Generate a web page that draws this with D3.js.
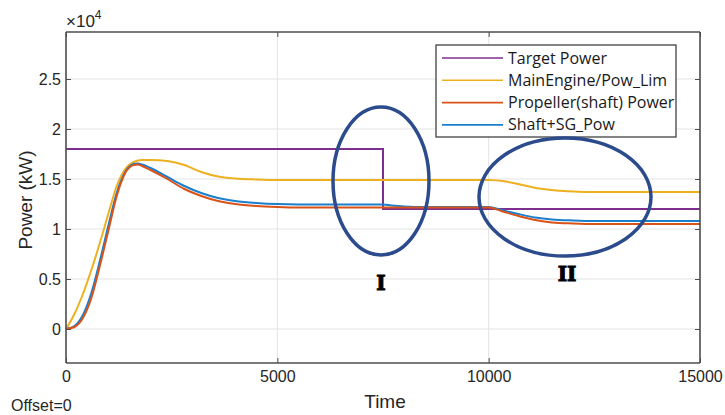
<!DOCTYPE html>
<html>
<head>
<meta charset="utf-8">
<script src="https://cdn.jsdelivr.net/npm/d3@7"></script>
<style>
  body { margin: 0; background: #fff; }
  svg { font-family: "Liberation Sans", Arial, sans-serif; }
</style>
</head>
<body>
<div id="chart"></div>
<script>
// Data (time, power in kW)
const timeTarget = [0, 7500, 7500, 15000];
const powTarget = [18000, 18000, 12000, 12000];

const timeEngine = [0, 200, 400, 600, 800, 1000, 1200, 1400, 1600, 1800, 2000, 2400, 2800, 3200, 3600, 4000, 4500, 5000, 10000, 10400, 10800, 11200, 11600, 12000, 12500, 15000];
const powEngine = [0, 1500, 3500, 5900, 8600, 11500, 14300, 16000, 16700, 16900, 16900, 16800, 16400, 15700, 15250, 15050, 14950, 14900, 14900, 14750, 14400, 14050, 13850, 13750, 13700, 13700];

const timeProp = [0, 200, 400, 600, 800, 1000, 1200, 1400, 1600, 1700, 1800, 2000, 2400, 2800, 3200, 3600, 4000, 4500, 5000, 5500, 10000, 10300, 10700, 11100, 11500, 12000, 12500, 15000];
const powProp = [0, 200, 1100, 3100, 6300, 9800, 13300, 15600, 16400, 16450, 16300, 15900, 15000, 14000, 13300, 12800, 12500, 12300, 12200, 12150, 12150, 11800, 11300, 10900, 10650, 10550, 10500, 10500];

const timeShaft = [0, 200, 400, 600, 800, 1000, 1200, 1400, 1600, 1700, 1800, 2000, 2400, 2800, 3200, 3600, 4000, 4500, 5000, 6000, 7500, 7700, 8000, 8500, 10000, 10300, 10700, 11100, 11500, 12000, 12500, 15000];
const powShaft = [0, 300, 1400, 3600, 6800, 10300, 13600, 15700, 16500, 16550, 16450, 16100, 15200, 14300, 13600, 13100, 12800, 12600, 12500, 12450, 12450, 12350, 12250, 12200, 12200, 11900, 11500, 11150, 10950, 10850, 10800, 10800];

const xTicks = [0, 5000, 10000, 15000];
const yTicks = [0, 5000, 10000, 15000, 20000, 25000];
const seriesNames = ['Target Power', 'MainEngine/Pow_Lim', 'Propeller(shaft) Power', 'Shaft+SG_Pow'];
const seriesColors = ['#7e2f8e', '#edb120', '#d95319', '#1b7fcc'];

const W = 725, H = 415;
const margin = { top: 32, right: 25, bottom: 52, left: 66 };
const width = W - margin.left - margin.right;
const height = H - margin.top - margin.bottom;

const svg = d3.select('#chart').append('svg')
  .attr('width', W).attr('height', H);
const g = svg.append('g')
  .attr('transform', `translate(${margin.left},${margin.top})`);

const x = d3.scaleLinear().domain([0, 15000]).range([0, width]);
const y = d3.scaleLinear().domain([-3400, 29700]).range([height, 0]);

// Grid
g.append('g').selectAll('line').data(xTicks.slice(1, -1)).enter().append('line')
  .attr('x1', d => x(d)).attr('x2', d => x(d))
  .attr('y1', 0).attr('y2', height)
  .attr('stroke', '#e3e3e3').attr('stroke-width', 1);
g.append('g').selectAll('line').data(yTicks).enter().append('line')
  .attr('x1', 0).attr('x2', width)
  .attr('y1', d => y(d)).attr('y2', d => y(d))
  .attr('stroke', '#e3e3e3').attr('stroke-width', 1);

// Series (propeller drawn last so it sits on top where it meets the shaft curve)
const line = d3.line().curve(d3.curveMonotoneX);
const series = [
  [timeTarget, powTarget, 0],
  [timeEngine, powEngine, 1],
  [timeShaft, powShaft, 3],
  [timeProp, powProp, 2]
];
series.forEach(s => {
  const pts = s[0].map((t, k) => [x(t), y(s[1][k])]);
  g.append('path')
    .attr('d', s[2] === 0 ? d3.line()(pts) : line(pts))
    .attr('fill', 'none')
    .attr('stroke', seriesColors[s[2]])
    .attr('stroke-width', 2);
});

// Axes (MATLAB style box, ticks inside on all sides)
const axisColor = '#4d4d4d';
const fmtY = d => d === 0 ? '0' : String(d / 10000);
const xAxis = g.append('g').attr('transform', `translate(0,${height})`)
  .call(d3.axisBottom(x).tickValues(xTicks).tickSize(-5).tickPadding(8).tickFormat(d3.format('d')));
const xAxisTop = g.append('g')
  .call(d3.axisTop(x).tickValues(xTicks).tickSize(-5).tickFormat(''));
const yAxis = g.append('g')
  .call(d3.axisLeft(y).tickValues(yTicks).tickSize(-5).tickPadding(5).tickFormat(fmtY));
const yAxisRight = g.append('g').attr('transform', `translate(${width},0)`)
  .call(d3.axisRight(y).tickValues(yTicks).tickSize(-5).tickFormat(''));
[xAxis, xAxisTop, yAxis, yAxisRight].forEach(a => {
  a.select('.domain').attr('stroke', axisColor).attr('stroke-width', 1.6);
  a.selectAll('.tick line').attr('stroke', axisColor).attr('stroke-width', 1);
  a.selectAll('text').attr('fill', '#262626').style('font-size', '16px');
});
xAxis.select('.domain').attr('d', `M0,0H${width}`);
xAxisTop.select('.domain').attr('d', `M0,0H${width}`);
yAxis.select('.domain').attr('d', `M0,0V${height}`);
yAxisRight.select('.domain').attr('d', `M0,0V${height}`);

// Axis labels
svg.append('text')
  .attr('x', 385).attr('y', 408)
  .attr('text-anchor', 'middle')
  .style('font-size', '19px').attr('fill', '#262626')
  .text('Time');
svg.append('text')
  .attr('transform', 'translate(32,200) rotate(-90)')
  .attr('text-anchor', 'middle')
  .style('font-size', '19px').attr('fill', '#262626')
  .text('Power (kW)');
const expo = svg.append('text')
  .attr('x', 66).attr('y', 27)
  .style('font-size', '17px').attr('fill', '#262626');
expo.append('tspan').text('\u00d710');
expo.append('tspan').attr('dy', -8).style('font-size', '12px').text('4');
svg.append('text')
  .attr('x', 11).attr('y', 411)
  .style('font-size', '16px').attr('fill', '#262626')
  .text('Offset=0');

// Legend
const legend = svg.append('g').attr('transform', 'translate(436,45)');
legend.append('rect')
  .attr('width', 240).attr('height', 92)
  .attr('fill', '#fff').attr('stroke', '#333').attr('stroke-width', 1.2);
seriesNames.forEach((name, i) => {
  const ly = 13 + i * 22.3;
  legend.append('line')
    .attr('x1', 6).attr('x2', 67).attr('y1', ly).attr('y2', ly)
    .attr('stroke', seriesColors[i]).attr('stroke-width', 1.6);
  legend.append('text')
    .attr('x', 72).attr('y', ly + 5.5)
    .style('font-family', '"Open Sans", sans-serif')
    .style('font-size', '16px').attr('fill', '#1a1a1a')
    .text(name);
});

// Annotation ellipses and labels
const ann = svg.append('g');
ann.append('ellipse')
  .attr('cx', 381).attr('cy', 181).attr('rx', 48).attr('ry', 74)
  .attr('fill', 'none').attr('stroke', '#2c4b8c').attr('stroke-width', 3.5);
ann.append('ellipse')
  .attr('cx', 565).attr('cy', 197).attr('rx', 86).attr('ry', 59)
  .attr('fill', 'none').attr('stroke', '#2c4b8c').attr('stroke-width', 3.5);
ann.append('text')
  .attr('x', 381).attr('y', 290).attr('text-anchor', 'middle')
  .style('font-family', '"DejaVu Serif", serif').style('font-weight', 'bold')
  .style('font-size', '20px').attr('fill', '#000')
  .attr('stroke', '#000').attr('stroke-width', 1)
  .text('I');
ann.append('text')
  .attr('x', 567).attr('y', 281).attr('text-anchor', 'middle')
  .style('font-family', '"DejaVu Serif", serif').style('font-weight', 'bold')
  .style('font-size', '20px').attr('fill', '#000')
  .attr('stroke', '#000').attr('stroke-width', 1)
  .text('II');
</script>
</body>
</html>
